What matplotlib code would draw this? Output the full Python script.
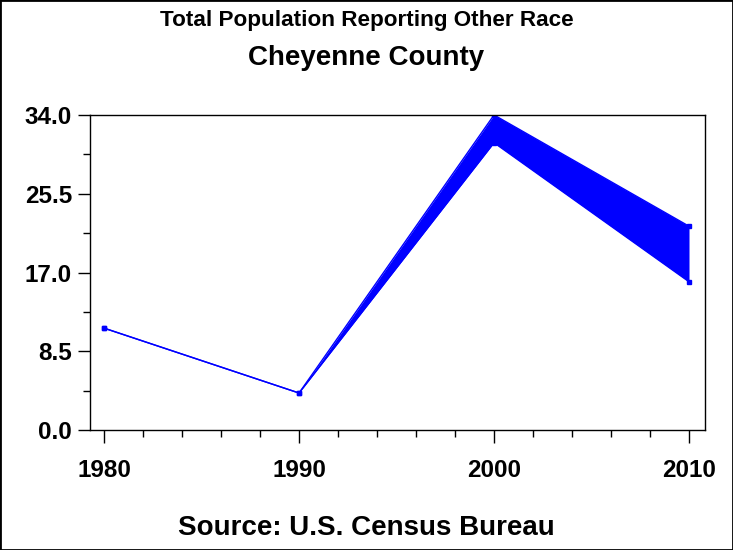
import numpy as np
import matplotlib.pyplot as plt
from matplotlib.ticker import MultipleLocator
from matplotlib.patches import Rectangle

years = [1980, 1990, 2000, 2010]
upper = [11.0, 4.0, 34.0, 22.0]
lower = [11.0, 4.0, 31.0, 16.0]
yticks = [0.0, 8.5, 17.0, 25.5, 34.0]

plt.rcParams['font.family'] = ['Liberation Sans', 'DejaVu Sans']

fig = plt.figure(figsize=(7.33, 5.5), dpi=100)
ax = fig.add_axes([0.1228, 0.218, 0.839, 0.573])

ax.fill_between(years, lower, upper, color="#0000ff", linewidth=0)
ax.plot(years, upper, color="#0000ff", linewidth=1, marker="s", markersize=3)
ax.plot(years, lower, color="#0000ff", linewidth=1, marker="s", markersize=3)

ax.set_xlim(1979.28, 2010.82)
ax.set_ylim(0, 34)
ax.set_xticks(years)
ax.set_yticks(yticks)
ax.set_yticklabels([f"{v:.1f}" for v in yticks])
ax.xaxis.set_minor_locator(MultipleLocator(2))
ax.yaxis.set_minor_locator(MultipleLocator(4.25))

ax.tick_params(axis="both", which="major", direction="out", length=9, width=1,
               labelsize=17.5, pad=4)
ax.tick_params(axis="both", which="minor", direction="out", length=5, width=1)
ax.tick_params(axis="x", pad=12)
for lab in ax.get_xticklabels() + ax.get_yticklabels():
    lab.set_fontweight("bold")
for s in ax.spines.values():
    s.set_linewidth(1)

fig.text(0.5, 0.963, "Total Population Reporting Other Race", ha="center",
         va="center", fontsize=16.2, fontweight="bold")
fig.text(0.5, 0.895, "Cheyenne County", ha="center", va="center",
         fontsize=20, fontweight="bold")
fig.text(0.5, 0.04, "Source: U.S. Census Bureau", ha="center", va="center",
         fontsize=20, fontweight="bold")

fig.patches.append(Rectangle((0, 0), 1, 1, transform=fig.transFigure,
                             fill=False, edgecolor="black", linewidth=2))

fig.savefig("out.png", dpi=100)
